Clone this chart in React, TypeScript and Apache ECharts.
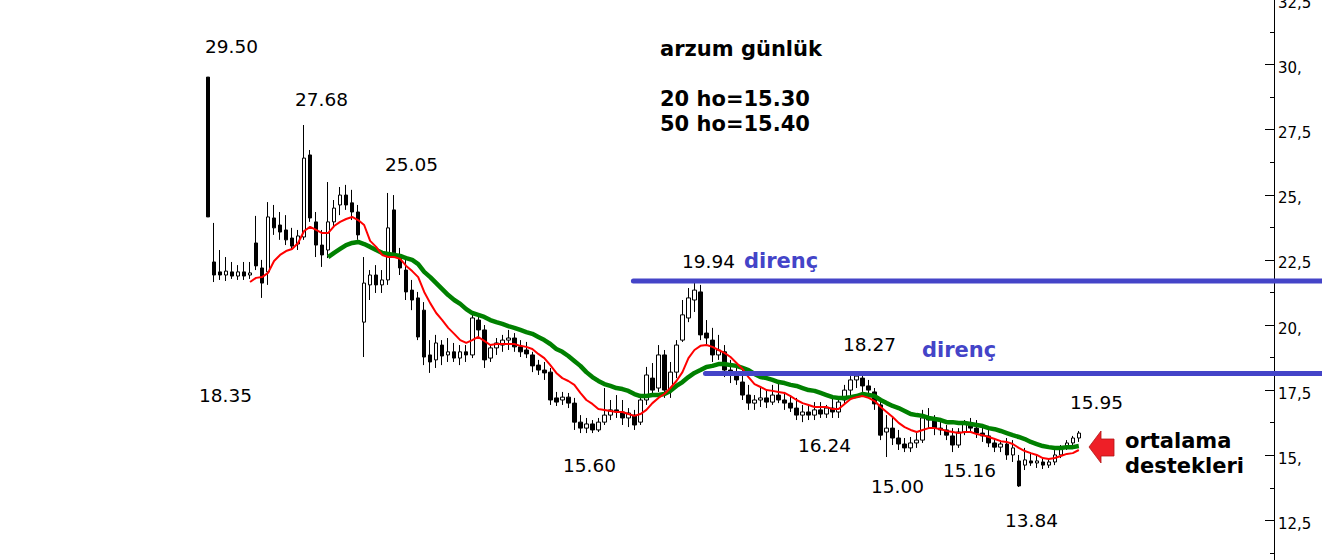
import React, { useEffect, useRef } from "react";
import * as echarts from "echarts";

// ---- data ----
const opens = [
  29.52, 22.42, 22.04, 21.92, 22.04, 21.88, 22.04, 21.92, 23.15, 22.19,
  22.04, 24.11, 23.84, 23.65, 23.34, 23.11, 23.38, 26.53, 23.96, 23.07,
  22.88, 23.96, 24.61, 24.99, 24.69, 24.34, 20.11, 21.54, 21.92, 21.54,
  21.73, 24.42, 22.69, 22.11, 21.34, 21.04, 20.57, 18.85, 18.66, 19.23,
  18.85, 18.97, 18.73, 18.97, 18.85, 20.19, 19.81, 18.73, 19.12, 19.23,
  19.42, 19.5, 19.16, 19.04, 18.85, 18.46, 18.27, 18.19, 17.2, 17.12,
  17.23, 17.0, 16.27, 16.04, 16.2, 15.97, 16.27, 16.54, 16.74, 16.66,
  16.43, 16.54, 16.27, 17.12, 17.96, 17.58, 18.85, 17.5, 18.19, 19.42,
  20.27, 20.96, 21.27, 19.69, 19.42, 18.85, 18.97, 18.27, 18.08, 17.81,
  17.31, 17.0, 17.12, 17.2, 17.04, 17.31, 17.12, 17.0, 16.81, 16.54,
  16.66, 16.54, 16.74, 16.58, 16.81, 16.66, 17.12, 17.5, 17.89, 17.96,
  17.66, 17.43, 16.93, 15.89, 16.04, 15.66, 15.43, 15.28, 15.47, 15.58,
  16.43, 16.35, 16.04, 15.97, 15.74, 15.39, 15.89, 16.2, 16.04, 15.85,
  15.74, 15.47, 15.31, 15.43, 15.01, 14.78, 14.62, 14.78, 14.7, 14.74,
  14.62, 14.74, 15.01, 15.31, 15.47, 15.66,
];
const highs = [
  29.52, 23.92, 22.88, 22.61, 22.42, 22.3, 22.42, 22.42, 24.19, 22.5,
  24.72, 24.61, 24.34, 24.22, 23.73, 23.65, 27.68, 26.72, 24.34, 23.65,
  25.49, 24.8, 25.3, 25.38, 25.19, 24.61, 22.61, 22.11, 22.3, 22.11,
  25.07, 24.99, 22.96, 22.5, 21.73, 21.27, 20.88, 19.42, 19.62, 19.42,
  19.5, 19.31, 19.23, 19.23, 20.46, 20.39, 20.0, 19.23, 19.5, 19.62,
  19.81, 19.69, 19.42, 19.35, 18.97, 18.66, 18.58, 18.35, 17.43, 17.43,
  17.39, 17.2, 16.54, 16.43, 16.35, 16.43, 17.58, 17.12, 17.31, 17.12,
  16.81, 16.74, 17.31, 18.39, 18.54, 19.23, 19.04, 18.58, 19.42, 20.96,
  21.42, 21.65, 21.54, 20.19, 19.89, 19.62, 19.23, 18.66, 18.46, 18.27,
  17.7, 17.31, 17.58, 17.5, 17.7, 17.89, 17.43, 17.31, 17.2, 16.93,
  16.93, 17.04, 17.04, 16.93, 17.31, 17.2, 17.7, 18.04, 18.19, 18.12,
  17.89, 17.58, 17.12, 16.54, 16.43, 15.97, 15.66, 15.7, 15.85, 16.74,
  16.81, 16.54, 16.35, 16.16, 16.04, 16.04, 16.35, 16.43, 16.35, 16.16,
  15.97, 15.66, 15.58, 15.66, 15.58, 15.01, 15.28, 15.12, 15.01, 14.89,
  14.89, 15.2, 15.39, 15.58, 15.74, 15.93,
];
const lows = [
  24.15, 21.65, 21.73, 21.69, 21.77, 21.73, 21.73, 21.77, 22.11, 21.04,
  21.54, 23.46, 23.27, 23.07, 22.88, 22.88, 23.27, 23.96, 22.61, 22.23,
  22.57, 23.73, 24.22, 24.42, 24.03, 23.27, 18.77, 20.96, 21.23, 21.23,
  21.54, 22.57, 21.92, 20.96, 20.57, 19.42, 18.46, 18.16, 18.35, 18.46,
  18.58, 18.58, 18.46, 18.58, 18.73, 19.54, 18.35, 18.58, 18.85, 18.97,
  19.04, 18.97, 18.77, 18.73, 18.19, 18.08, 17.89, 16.93, 16.89, 16.93,
  16.81, 15.97, 15.85, 15.85, 15.85, 15.89, 16.16, 16.35, 16.43, 16.16,
  16.08, 15.97, 16.16, 16.93, 17.31, 17.43, 17.2, 17.2, 17.96, 19.35,
  20.11, 20.5, 19.42, 19.23, 18.58, 18.66, 18.0, 17.77, 17.7, 17.12,
  16.74, 16.74, 16.85, 16.81, 16.93, 17.0, 16.74, 16.66, 16.35, 16.27,
  16.35, 16.35, 16.43, 16.43, 16.43, 16.43, 16.93, 17.23, 17.58, 17.43,
  17.31, 16.74, 15.58, 14.93, 15.39, 15.2, 15.12, 15.12, 15.28, 15.47,
  16.04, 15.77, 15.77, 15.58, 15.12, 15.28, 15.77, 15.89, 15.66, 15.51,
  15.31, 15.12, 15.12, 14.82, 14.74, 13.78, 14.43, 14.59, 14.51, 14.47,
  14.51, 14.62, 14.89, 15.2, 15.35, 15.51,
];
const closes = [
  24.15, 21.92, 21.92, 22.07, 21.88, 22.04, 21.88, 22.0, 22.27, 21.61,
  24.15, 23.73, 23.57, 23.27, 23.03, 23.42, 26.41, 24.11, 23.07, 22.69,
  23.96, 24.49, 24.99, 24.61, 24.34, 23.46, 21.61, 21.92, 21.54, 21.73,
  23.73, 22.77, 22.19, 21.27, 20.96, 19.54, 18.77, 18.58, 19.31, 18.81,
  18.97, 18.73, 18.97, 18.85, 20.27, 19.81, 18.66, 19.12, 19.31, 19.42,
  19.5, 19.16, 18.97, 18.89, 18.43, 18.27, 18.16, 17.12, 17.04, 17.23,
  17.0, 16.27, 16.04, 16.2, 15.97, 16.27, 16.54, 16.74, 16.66, 16.43,
  16.62, 16.16, 17.12, 18.08, 17.5, 18.85, 17.5, 18.19, 19.23, 20.39,
  21.04, 21.34, 19.62, 19.5, 18.85, 19.04, 18.27, 18.08, 17.89, 17.31,
  17.0, 17.12, 17.2, 17.04, 17.31, 17.12, 17.0, 16.81, 16.54, 16.66,
  16.54, 16.74, 16.58, 16.81, 16.66, 17.04, 17.5, 17.89, 18.04, 17.66,
  17.5, 16.97, 15.77, 16.04, 15.66, 15.43, 15.28, 15.47, 15.58, 16.43,
  16.35, 16.04, 15.97, 15.77, 15.39, 15.89, 16.2, 16.04, 15.85, 15.74,
  15.47, 15.31, 15.43, 15.01, 15.28, 13.82, 14.82, 14.7, 14.78, 14.62,
  14.74, 15.01, 15.31, 15.47, 15.66, 15.85,
];
const ma20 = [
  null, null, null, null, null, null, null, 21.65, 21.81, 21.84,
  22.0, 22.46, 22.69, 22.84, 22.92, 23.15, 23.61, 23.77, 23.65, 23.53,
  23.53, 23.8, 23.96, 24.07, 24.15, 24.03, 23.84, 23.23, 23.0, 22.69,
  22.61, 22.61, 22.54, 22.27, 22.07, 21.84, 21.27, 20.84, 20.46, 20.19,
  19.89, 19.66, 19.42, 19.31, 19.42, 19.54, 19.39, 19.23, 19.27, 19.27,
  19.27, 19.27, 19.2, 19.16, 19.08, 18.89, 18.73, 18.46, 18.16, 17.96,
  17.85, 17.7, 17.39, 17.12, 16.97, 16.77, 16.74, 16.7, 16.66, 16.66,
  16.58, 16.51, 16.58, 16.74, 17.0, 17.2, 17.35, 17.58, 17.85, 18.19,
  18.73, 19.04, 19.2, 19.23, 19.16, 19.04, 18.93, 18.77, 18.54, 18.31,
  18.0, 17.73, 17.62, 17.5, 17.47, 17.43, 17.39, 17.27, 17.12, 17.0,
  16.93, 16.85, 16.85, 16.85, 16.77, 16.77, 16.97, 17.16, 17.23, 17.27,
  17.2, 17.08, 16.85, 16.66, 16.47, 16.24, 16.08, 15.97, 15.89, 15.97,
  16.04, 16.04, 16.0, 15.93, 15.89, 15.85, 15.89, 15.89, 15.81, 15.77,
  15.7, 15.62, 15.54, 15.51, 15.43, 15.28, 15.16, 15.08, 15.01, 14.89,
  14.85, 14.89, 14.97, 15.05, 15.08, 15.2,
];
const ma50 = [
  null, null, null, null, null, null, null, null, null, null,
  null, null, null, null, null, null, null, null, null, null,
  22.61, 22.77, 22.92, 23.07, 23.15, 23.19, 23.11, 23.0, 22.88, 22.77,
  22.73, 22.69, 22.65, 22.57, 22.5, 22.34, 22.04, 21.84, 21.61, 21.38,
  21.15, 20.96, 20.81, 20.61, 20.46, 20.39, 20.31, 20.19, 20.11, 20.04,
  19.96, 19.89, 19.81, 19.73, 19.66, 19.54, 19.42, 19.27, 19.08, 18.97,
  18.81, 18.62, 18.43, 18.19, 18.0, 17.85, 17.73, 17.66, 17.58, 17.54,
  17.47, 17.35, 17.27, 17.27, 17.31, 17.31, 17.35, 17.47, 17.66, 17.81,
  18.0, 18.16, 18.27, 18.39, 18.43, 18.5, 18.5, 18.46, 18.43, 18.35,
  18.27, 18.12, 18.0, 17.96, 17.89, 17.81, 17.77, 17.7, 17.66, 17.58,
  17.5, 17.47, 17.39, 17.31, 17.23, 17.2, 17.2, 17.23, 17.27, 17.35,
  17.31, 17.27, 17.12, 17.0, 16.89, 16.81, 16.7, 16.58, 16.54, 16.51,
  16.43, 16.39, 16.35, 16.27, 16.27, 16.24, 16.24, 16.2, 16.16, 16.12,
  16.04, 16.0, 15.93, 15.85, 15.77, 15.7, 15.62, 15.51, 15.43, 15.35,
  15.31, 15.28, 15.28, 15.31, 15.31, 15.35,
];
// resistance levels ("direnç") and the bar index where each line starts
const resistanceLevels = [21.69, 18.14];
const resistanceStartBar = [71, 83];
// y axis ticks
const yMin = 7.5;
const yMax = 32.5;
const yStep = 2.5;
const yLowestLabel = 12.5;
// texts
const priceNotes = ["29.50", "27.68", "25.05", "19.94", "18.27", "18.35", "15.60", "16.24", "15.00", "15.16", "15.95", "13.84"];
const titleLines = ["arzum günlük", "20 ho=15.30", "50 ho=15.40"];
const resistanceLabel = "direnç";
const supportLines = ["ortalama", "destekleri"];
const TOTAL_SLOTS = 178; // bar slots on the x axis (data fills the first ones)

const FONT = '"DejaVu Sans", Verdana, sans-serif';

export default function App() {
  const ref = useRef<HTMLDivElement>(null);

  useEffect(() => {
    document.body.style.margin = "0";
    if (!ref.current) return;
    const chart = echarts.init(ref.current, null, { renderer: "svg" });

    const categories: string[] = [];
    for (let i = 0; i < TOTAL_SLOTS; i++) categories.push("d" + i);
    const candles = opens.map((o, i) => [o, closes[i], lows[i], highs[i]]);

    chart.setOption({
      animation: false,
      backgroundColor: "#ffffff",
      grid: {
        left: 205,
        top: -0.5,
        width: 1069,
        height: 651,
        containLabel: false,
        outerBoundsMode: "none",
      },
      xAxis: {
        type: "category",
        data: categories,
        show: false,
        boundaryGap: true,
      },
      yAxis: {
        type: "value",
        position: "right",
        min: yMin,
        max: yMax,
        interval: yStep,
        axisLine: { show: true, lineStyle: { color: "#000", width: 1 } },
        axisTick: { show: true, inside: true, length: 9, lineStyle: { color: "#000", width: 1 } },
        minorTick: { show: true, splitNumber: 2, length: 4, lineStyle: { color: "#000", width: 1 } },
        splitLine: { show: false },
        minorSplitLine: { show: false },
        axisLabel: {
          show: true,
          margin: 4,
          color: "#000",
          fontFamily: FONT,
          fontSize: 15,
          verticalAlign: "top",
          lineHeight: 7,
          formatter: (v: number) =>
            v < yLowestLabel ? "" : Number.isInteger(v) ? v + "," : String(v).replace(".", ","),
        },
      },
      series: [
        {
          type: "candlestick",
          data: candles,
          barWidth: 4,
          itemStyle: {
            color: "#ffffff",
            color0: "#000000",
            borderColor: "#000000",
            borderColor0: "#000000",
            borderWidth: 1,
          },
          z: 2,
        },
        {
          type: "line",
          data: ma50,
          showSymbol: false,
          symbol: "none",
          lineStyle: { color: "#008000", width: 4.5 },
          z: 3,
        },
        {
          type: "line",
          data: ma20,
          showSymbol: false,
          symbol: "none",
          lineStyle: { color: "#ff0000", width: 2 },
          z: 4,
        },
      ],
    });

    const W = 1322;
    const lineEls = resistanceLevels.map((lv, k) => {
      const y = chart.convertToPixel({ yAxisIndex: 0 }, lv) as number;
      const x = chart.convertToPixel({ xAxisIndex: 0 }, categories[resistanceStartBar[k]]) as number;
      return {
        type: "line",
        shape: { x1: x - 1, y1: y, x2: W + 5, y2: y },
        style: { stroke: "#4444c8", lineWidth: 5, lineCap: "round" },
        z: 10,
      };
    });

    const notePos = [
      [205, 46], [295, 99], [385, 164], [682, 261], [843, 344], [199, 395],
      [563, 465], [798, 445], [871, 486], [943, 470], [1070, 402], [1005, 520],
    ];
    const textEl = (text: string, x: number, y: number, font: string, fill: string) => ({
      type: "text",
      z: 11,
      style: {
        text,
        x,
        y,
        font,
        fill,
        align: "left",
        verticalAlign: "middle",
        textAlign: "left",
        textVerticalAlign: "middle",
      },
    });
    const noteEls = priceNotes.map((t, i) => textEl(t, notePos[i][0], notePos[i][1], `18.5px ${FONT}`, "#000"));
    const titleY = [49, 99, 124];
    const titleEls = titleLines.map((t, i) => textEl(t, 660, titleY[i], `bold 21px ${FONT}`, "#000"));
    const dirPos = [[744, 261], [922, 350]];
    const dirEls = dirPos.map((p) => textEl(resistanceLabel, p[0], p[1], `bold 21px ${FONT}`, "#4444c8"));
    const supY = [441, 466];
    const supEls = supportLines.map((t, i) => textEl(t, 1125, supY[i], `bold 21px ${FONT}`, "#000"));
    const arrow = {
      type: "polygon",
      z: 12,
      shape: {
        points: [
          [1089, 447], [1101, 431], [1101, 439], [1114, 439],
          [1114, 456], [1101, 456], [1101, 463],
        ],
      },
      style: { fill: "#ee1f27", stroke: "#b01515", lineWidth: 0.8 },
    };

    chart.setOption({
      graphic: { elements: [...lineEls, ...noteEls, ...titleEls, ...dirEls, ...supEls, arrow] },
    });

    return () => chart.dispose();
  }, []);

  return <div ref={ref} style={{ width: 1322, height: 560 }} />;
}
